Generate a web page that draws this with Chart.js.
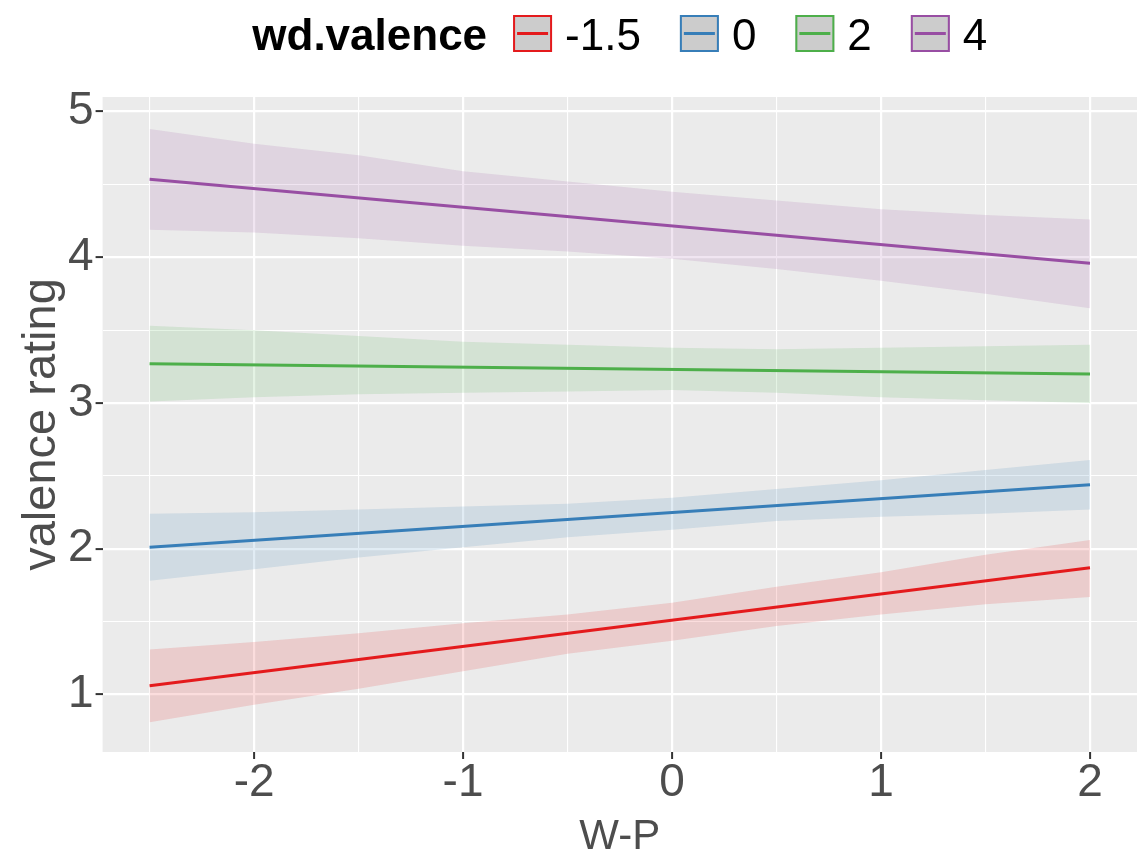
<!DOCTYPE html>
<html>
<head>
<meta charset="utf-8">
<script src="https://cdn.jsdelivr.net/npm/chart.js@4.4.1/dist/chart.umd.min.js"></script>
<style>
html,body{margin:0;padding:0;background:#ffffff;}
#wrap{width:1141px;height:854px;position:relative;}
</style>
</head>
<body>
<div id="wrap"><canvas id="c" width="1141" height="854"></canvas></div>
<script>
// ---------- data ----------
const bandX = [-2.5, -2, -1.5, -1, -0.5, 0, 0.5, 1, 1.5, 2];
const lineX = [-2.5, 2];

const seriesNames  = ['-1.5', '0', '2', '4'];
const seriesColors = ['#E41A1C', '#377EB8', '#4DAF4A', '#984EA3'];

const redLine    = [1.06, 1.87];
const redUpper   = [1.31, 1.36, 1.42, 1.49, 1.55, 1.63, 1.74, 1.84, 1.96, 2.06];
const redLower   = [0.81, 0.93, 1.04, 1.16, 1.28, 1.37, 1.47, 1.55, 1.62, 1.67];

const blueLine   = [2.01, 2.44];
const blueUpper  = [2.24, 2.25, 2.27, 2.29, 2.31, 2.35, 2.41, 2.47, 2.54, 2.61];
const blueLower  = [1.78, 1.86, 1.94, 2.01, 2.08, 2.13, 2.19, 2.22, 2.24, 2.27];

const greenLine  = [3.27, 3.20];
const greenUpper = [3.53, 3.50, 3.46, 3.42, 3.40, 3.38, 3.37, 3.38, 3.39, 3.40];
const greenLower = [3.01, 3.04, 3.06, 3.07, 3.08, 3.09, 3.07, 3.04, 3.02, 3.00];

const purpleLine  = [4.535, 3.96];
const purpleUpper = [4.88, 4.78, 4.70, 4.59, 4.52, 4.45, 4.39, 4.33, 4.29, 4.26];
const purpleLower = [4.19, 4.17, 4.13, 4.08, 4.04, 3.99, 3.92, 3.84, 3.75, 3.65];

const xMajorTicks = [-2, -1, 0, 1, 2];
const xMinorTicks = [-2.5, -1.5, -0.5, 0.5, 1.5];
const yMajorTicks = [1, 2, 3, 4, 5];
const yMinorTicks = [1.5, 2.5, 3.5, 4.5];

const legendTitle = 'wd.valence';
const xTitle = 'W-P';
const yTitle = 'valence rating';

// ---------- build datasets ----------
const lines  = [redLine, blueLine, greenLine, purpleLine];
const uppers = [redUpper, blueUpper, greenUpper, purpleUpper];
const lowers = [redLower, blueLower, greenLower, purpleLower];

function pts(xs, ys) { return xs.map((x, i) => ({x: x, y: ys[i]})); }
function hexA(hex, a) {
  const n = parseInt(hex.slice(1), 16);
  return `rgba(${(n >> 16) & 255},${(n >> 8) & 255},${n & 255},${a})`;
}

const datasets = [];
seriesNames.forEach((name, i) => {
  datasets.push({
    label: name + ' upper', data: pts(bandX, uppers[i]),
    borderWidth: 0, pointRadius: 0, borderColor: 'rgba(0,0,0,0)',
    backgroundColor: hexA(seriesColors[i], 0.15), fill: '+1', order: 2, tension: 0
  });
  datasets.push({
    label: name + ' lower', data: pts(bandX, lowers[i]),
    borderWidth: 0, pointRadius: 0, borderColor: 'rgba(0,0,0,0)',
    backgroundColor: 'rgba(0,0,0,0)', fill: false, order: 2, tension: 0
  });
});
seriesNames.forEach((name, i) => {
  datasets.push({
    label: name, data: pts(lineX, lines[i]),
    borderColor: seriesColors[i], borderWidth: 3, pointRadius: 0,
    fill: false, order: 1, tension: 0
  });
});

// ---------- plugins ----------
const FONT = '"Liberation Sans", Arial, sans-serif';

const panelBg = {
  id: 'panelBg',
  beforeDraw(chart) {
    const {ctx, chartArea: a} = chart;
    ctx.save();
    ctx.fillStyle = '#EBEBEB';
    ctx.fillRect(a.left, a.top, a.right - a.left, a.bottom - a.top);
    ctx.restore();
  }
};

const topLegend = {
  id: 'topLegend',
  afterDraw(chart) {
    const {ctx, chartArea: a} = chart;
    ctx.save();
    const titleFont = 'bold 44px ' + FONT;
    const labFont = '44px ' + FONT;
    ctx.font = titleFont;
    const wTitle = ctx.measureText(legendTitle).width;
    ctx.font = labFont;
    const wLabs = seriesNames.map(s => ctx.measureText(s).width);
    const keyW = 39, keyH = 37, gTitle = 26, gKey = 13, gItem = 39;
    let total = wTitle + gTitle;
    wLabs.forEach((w, i) => { total += keyW + gKey + w + (i < wLabs.length - 1 ? gItem : 0); });
    let x = (a.left + a.right) / 2 - total / 2;
    const baseY = 50;
    const keyTop = 15;
    ctx.textBaseline = 'alphabetic';
    ctx.textAlign = 'left';
    ctx.fillStyle = '#000000';
    ctx.font = titleFont;
    ctx.fillText(legendTitle, x, baseY);
    x += wTitle + gTitle;
    seriesNames.forEach((s, i) => {
      ctx.fillStyle = '#CCCCCC';
      ctx.fillRect(x, keyTop, keyW, keyH);
      ctx.strokeStyle = seriesColors[i];
      ctx.lineWidth = 2;
      ctx.strokeRect(x + 1, keyTop + 1, keyW - 2, keyH - 2);
      ctx.lineWidth = 3;
      ctx.beginPath();
      ctx.moveTo(x + 4, keyTop + keyH / 2);
      ctx.lineTo(x + keyW - 4, keyTop + keyH / 2);
      ctx.stroke();
      x += keyW + gKey;
      ctx.fillStyle = '#000000';
      ctx.font = labFont;
      ctx.fillText(s, x, baseY);
      x += wLabs[i] + gItem;
    });
    ctx.restore();
  }
};

function isMajor(v) { return Math.abs(v - Math.round(v)) < 1e-9; }
function gridOpts() {
  return {
    color: '#FFFFFF',
    lineWidth: c => (c.tick && isMajor(c.tick.value)) ? 2.2 : 1.1,
    tickColor: c => (c.tick && isMajor(c.tick.value)) ? '#333333' : 'rgba(0,0,0,0)',
    tickLength: 7,
    tickWidth: 2,
    drawOnChartArea: true,
    drawTicks: true
  };
}

new Chart(document.getElementById('c'), {
  type: 'line',
  data: { datasets: datasets },
  options: {
    responsive: false,
    animation: false,
    events: [],
    layout: { padding: { top: 97, right: 4, bottom: 0, left: 19 } },
    plugins: { legend: { display: false }, tooltip: { enabled: false } },
    scales: {
      x: {
        type: 'linear', min: -2.725, max: 2.225,
        afterBuildTicks: s => { s.ticks = xMinorTicks.concat(xMajorTicks).sort((p, q) => p - q).map(v => ({value: v})); },
        ticks: {
          autoSkip: false, maxRotation: 0, padding: 1,
          color: '#4D4D4D', font: { family: FONT, size: 46, lineHeight: 1.0 },
          callback: v => isMajor(v) ? String(Math.round(v)) : ''
        },
        grid: gridOpts(),
        border: { display: false },
        title: { display: true, text: xTitle, color: '#4D4D4D', font: { family: FONT, size: 42, lineHeight: 0.81 }, padding: { top: 13, bottom: 0 } }
      },
      y: {
        type: 'linear', min: 0.606, max: 5.10,
        afterBuildTicks: s => { s.ticks = yMinorTicks.concat(yMajorTicks).sort((p, q) => p - q).map(v => ({value: v})); },
        ticks: {
          autoSkip: false, padding: 2,
          color: '#4D4D4D', font: { family: FONT, size: 46, lineHeight: 1.0 },
          callback: v => isMajor(v) ? String(Math.round(v)) : ''
        },
        grid: gridOpts(),
        border: { display: false },
        title: { display: true, text: yTitle, color: '#4D4D4D', font: { family: FONT, size: 47, lineHeight: 1.0 }, padding: { top: 0, bottom: 0 } }
      }
    }
  },
  plugins: [panelBg, topLegend]
});
</script>
</body>
</html>
